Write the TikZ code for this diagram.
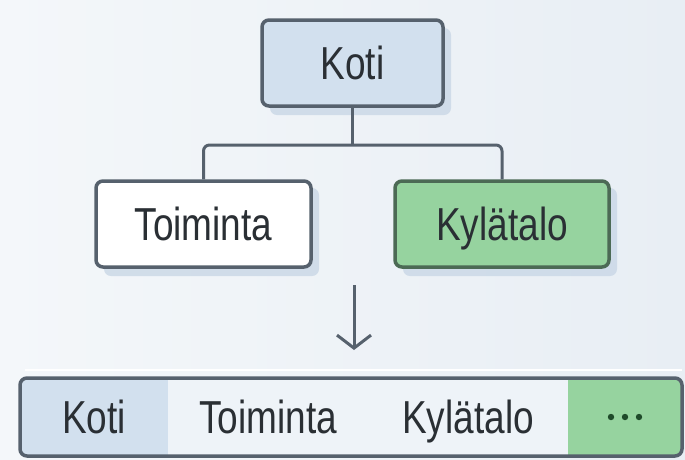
\documentclass[tikz,border=0pt]{standalone}
\usepackage{fontspec}
\usepackage{graphicx}
\setmainfont{Liberation Sans}
\usetikzlibrary{arrows.meta}
\definecolor{bgA}{HTML}{F4F7FA}
\definecolor{bgB}{HTML}{E8EEF4}
\definecolor{bluefill}{HTML}{D2E0EE}
\definecolor{greenfill}{HTML}{96D39F}
\definecolor{edge}{HTML}{56616D}
\definecolor{greenedge}{HTML}{4C6A55}
\definecolor{shadowc}{HTML}{C9D7E6}
\definecolor{midfill}{HTML}{EEF3F8}
\definecolor{txt}{HTML}{2A2F34}
\definecolor{dotc}{HTML}{1F4A2A}
\newcommand{\tallt}[1]{\scalebox{1}[1.25]{#1}}
\tikzset{
  box/.style={draw=edge, line width=3.5pt, rounded corners=7pt, minimum height=86pt, inner sep=0pt, text height=33pt, text depth=0pt, text=txt, font=\fontsize{37}{40}\selectfont},
  conn/.style={draw=edge, line width=3pt},
  seg/.style={minimum height=78pt, inner sep=0pt, text height=33pt, text depth=0pt, text=txt, font=\fontsize{37}{40}\selectfont},
}
\begin{document}
\begin{tikzpicture}[x=1pt,y=-1pt]
\useasboundingbox (0,0) rectangle (685,459);
\shade[left color=bgA, right color=bgB] (0,0) rectangle (685,459);
% shadows
\fill[shadowc, rounded corners=7pt, opacity=0.8] (270,28) rectangle (451,115);
\fill[shadowc, rounded corners=7pt, opacity=0.8] (104,188) rectangle (319,276);
\fill[shadowc, rounded corners=7pt, opacity=0.8] (403,188) rectangle (617,276);
% tree nodes
\node[box, fill=bluefill, minimum width=181pt] (koti) at (352.5,63) {\tallt{Koti}};
\node[box, fill=white, minimum width=215pt] (toim) at (203.5,224) {\tallt{Toiminta}};
\node[box, fill=greenfill, draw=greenedge, minimum width=214pt] (kyla) at (502,224) {\tallt{Kylätalo}};
% connectors
\coordinate (j) at (352.5,145);
\draw[conn] (koti.south) -- (j);
\draw[conn, rounded corners=6pt] (toim.north) |- (j) -| (kyla.north);
% arrow
\coordinate (a1) at (354,285);
\coordinate (a2) at (354,350);
\draw[conn, -{Straight Barb[length=13pt,width=34pt]}] (a1) -- (a2);
% breadcrumb bar
\draw[white, line width=2pt] (25,370) -- (682,370);
\begin{scope}
\clip[rounded corners=7pt] (20,378) rectangle (682,456);
\fill[midfill] (20,378) rectangle (682,456);
\node[seg, fill=bluefill, minimum width=148pt] (bk) at (94,417) {\tallt{Koti}};
\node[seg, fill=midfill, minimum width=200pt] (bt) at (268,417) {\tallt{Toiminta}};
\node[seg, fill=midfill, minimum width=200pt] (by) at (468,417) {\tallt{Kylätalo}};
\node[seg, fill=greenfill, minimum width=114pt] (bd) at (625,417) {};
\end{scope}
\foreach \dx in {-14,0,14} \fill[dotc] ([xshift=\dx pt]bd.center) circle (3.2pt);
\draw[edge, line width=3.5pt, rounded corners=7pt] (20,378) rectangle (682,456);
\end{tikzpicture}
\end{document}
